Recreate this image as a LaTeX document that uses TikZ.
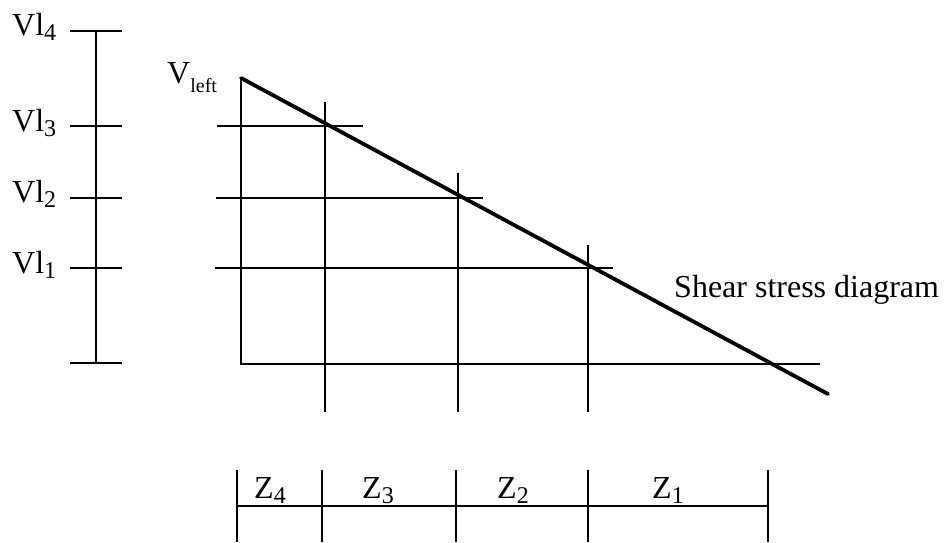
\documentclass[tikz,border=0pt]{standalone}
\usepackage{fontspec}
\setmainfont{Liberation Serif}
\usetikzlibrary{positioning}
\newcommand{\lowsub}[1]{\raisebox{-0.18em}{\fontsize{24}{24}\selectfont #1}}
\newcommand{\leftsub}[1]{\raisebox{-0.3em}{\fontsize{20}{20}\selectfont #1}}

\begin{document}
\begin{tikzpicture}[x=1pt, y=-1pt,
    lbl/.style={inner sep=0pt, anchor=base west, font=\fontsize{32}{38}\selectfont},
    thinline/.style={line width=1.8pt},
    frame/.style={line width=2.4pt},
    shear/.style={line width=3.8pt, line cap=round},
  ]
  \useasboundingbox (0,0) rectangle (950,542);

  % left scale
  \coordinate (vl4) at (96,31);
  \coordinate (vl3) at (96,126);
  \coordinate (vl2) at (96,198);
  \coordinate (vl1) at (96,268);
  \coordinate (vl0) at (96,363);
  \draw[thinline] (vl4) -- (vl0);
  \foreach \p in {vl4,vl3,vl2,vl1,vl0}
    \draw[thinline] ([xshift=-26pt]\p) -- ([xshift=26pt]\p);
  \node[lbl] (lvl4) at (12,35)  {Vl\lowsub{4}};
  \node[lbl] (lvl3) at (12,131) {Vl\lowsub{3}};
  \node[lbl] (lvl2) at (12,202) {Vl\lowsub{2}};
  \node[lbl] (lvl1) at (12,273) {Vl\lowsub{1}};

  % shear diagram
  \coordinate (top) at (241,78);
  \coordinate (corner) at (241,364);
  \coordinate (baseend) at (820,364);
  \coordinate (tip) at (828,394);
  \foreach \y/\xa/\xb in {126/217/363, 198/216/483, 268/215/613}
    \draw[thinline] (\xa,\y) -- (\xb,\y);
  \foreach \x/\ya in {325/102, 458/173, 588/245}
    \draw[thinline] (\x,\ya) -- (\x,412);
  \draw[frame] (top) -- (corner) -- (baseend);
  \draw[shear] (top) -- (tip);
  \node[lbl] (vleft) at (167,83) {V\leftsub{left}};
  \node[lbl] (title) at (674,297) {Shear stress diagram};

  % zones
  \coordinate (zs) at (237,506);
  \coordinate (ze) at (768,506);
  \draw[thinline] (zs) -- (ze);
  \foreach \x in {237,322,456,588,768}
    \draw[thinline] (\x,470) -- (\x,542);
  \node[lbl] (z4) at (254,498) {Z\lowsub{4}};
  \node[lbl] (z3) at (362,498) {Z\lowsub{3}};
  \node[lbl] (z2) at (497,498) {Z\lowsub{2}};
  \node[lbl] (z1) at (652,498) {Z\lowsub{1}};
\end{tikzpicture}
\end{document}
